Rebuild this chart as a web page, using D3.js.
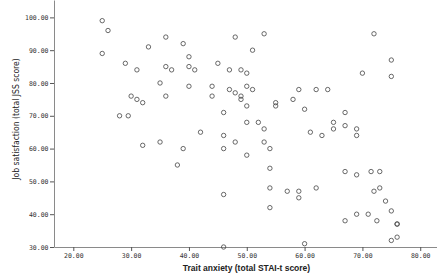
<!DOCTYPE html>
<html><head><meta charset="utf-8">
<script src="https://cdn.jsdelivr.net/npm/d3@7/dist/d3.min.js"></script>
<style>
html,body{margin:0;padding:0;background:#fff;}
svg{display:block;}
</style></head>
<body>
<script>
// Trait anxiety (STAI-t) scores
const anxiety = [25,26,25,33,29,31,30,31,32,28,29.5,32,
  36,39,48,53,51,40,45,36,37,40,41,47,49,50,35,40,44,50,51,47,48,49,49,36,44,50,55,55,46,50,52,53,42,46,
  35,39,46,48,53,54,50,38,54,54,57,46,54,46,
  72,75,70,75,59,62,64,58,60,67,65,65,67,69,61,63,69,
  59,59,62,67,69,71.5,73,72,73,74,75,67,69,71,72.5,76,76,75,76,60];
// Job satisfaction (JSS) scores
const satisfaction = [99,96,89,91,86,84,76,75,74,70,70,61,
  94,92,94,95,90,88,86,85,84,85,84,84,84,83,80,79,79,79,78,78,77,76,75,76,76,73,74,73,71,68,68,66,65,64,
  62,60,60,62,62,60,58,55,54,48,47,46,42,30,
  95,87,83,82,78,78,78,75,72,71,68,66,67,66,65,64,64,
  47,45,48,53,52,53,53,47,48,44,41,38,40,40,38,37,37,32,33,31];
const xTicks = [20,30,40,50,60,70,80];
const yTicks = [30,40,50,60,70,80,90,100];
const xTitle = "Trait anxiety (total STAI-t score)";
const yTitle = "Job satisfaction (total JSS score)";

const W = 437, H = 279;
const svg = d3.select("body").append("svg").attr("width", W).attr("height", H);

const x = d3.scaleLinear().domain([16.66, 82.9]).range([54, 437]);
const y = d3.scaleLinear().domain([30, 105.3]).range([247, 0]);

const fmt = d3.format(".2f");
const axisColor = "#8a8a8a";
const tickFont = "'DejaVu Sans Mono', monospace";

const gx = svg.append("g").attr("transform", "translate(0,247)")
  .call(d3.axisBottom(x).tickValues(xTicks).tickFormat(fmt).tickSizeInner(4).tickSizeOuter(0).tickPadding(2));
const gy = svg.append("g").attr("transform", "translate(54,0)")
  .call(d3.axisLeft(y).tickValues(yTicks).tickFormat(fmt).tickSizeInner(4).tickSizeOuter(0).tickPadding(1.5));

[gx, gy].forEach(g => {
  g.select(".domain").attr("stroke", axisColor).attr("stroke-width", 1);
  g.selectAll(".tick line").attr("stroke", "#555").attr("stroke-width", 1);
  g.selectAll(".tick text").attr("fill", "#333").style("font-family", tickFont).style("font-size", "6.5px");
});

svg.append("g").selectAll("circle")
  .data(anxiety.map((a, i) => [a, satisfaction[i]]))
  .join("circle")
  .attr("cx", d => x(d[0]))
  .attr("cy", d => y(d[1]))
  .attr("r", 2.2)
  .attr("fill", "none")
  .attr("stroke", "#444")
  .attr("stroke-width", 0.8);

svg.append("text")
  .attr("x", 246.5).attr("y", 271)
  .attr("text-anchor", "middle")
  .style("font-family", "'Liberation Sans', Arial, sans-serif")
  .style("font-weight", "bold")
  .style("font-size", "8.5px")
  .attr("fill", "#222")
  .text(xTitle);

svg.append("text")
  .attr("transform", "translate(19,119) rotate(-90)")
  .attr("text-anchor", "middle")
  .style("font-family", "'Liberation Sans Narrow', 'DejaVu Sans Condensed', sans-serif")
  .style("font-size", "8.5px")
  .attr("fill", "#222")
  .text(yTitle);
</script>
</body></html>
